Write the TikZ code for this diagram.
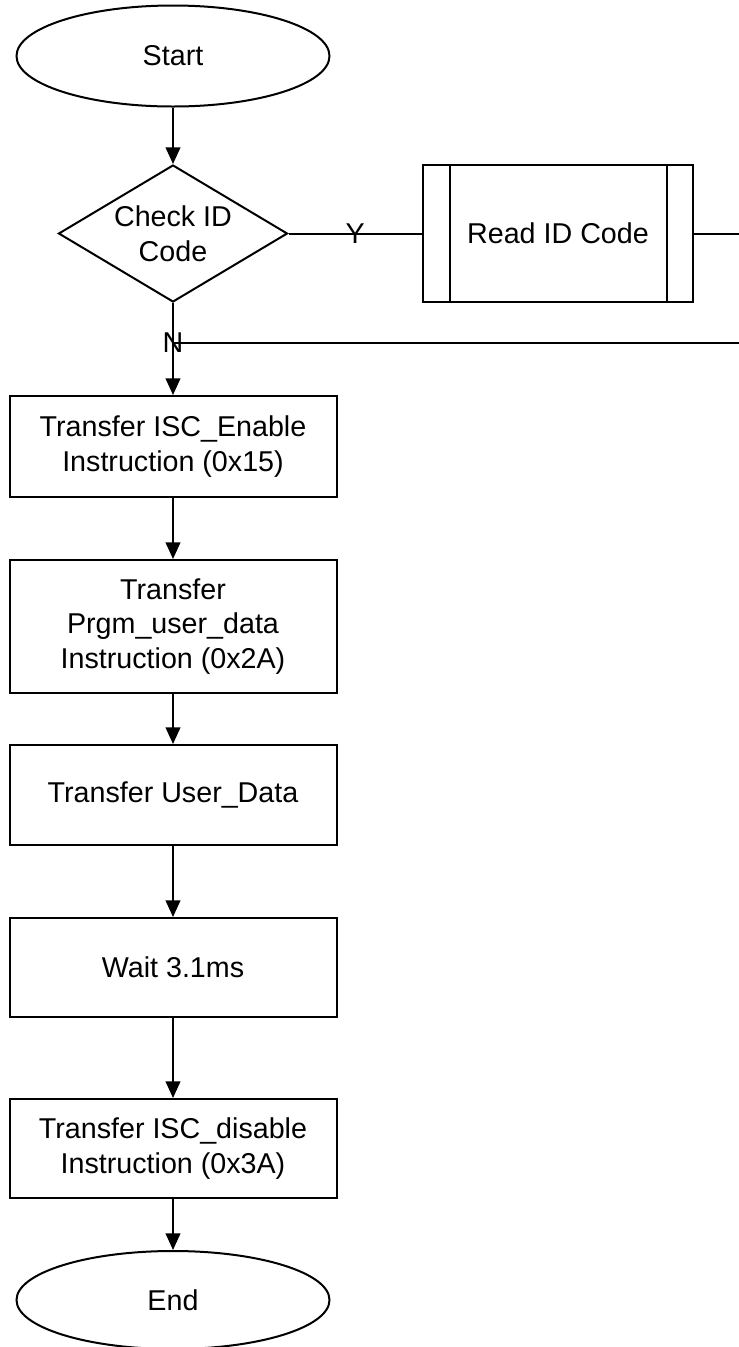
\documentclass[tikz,border=0pt]{standalone}
\usepackage{fontspec}
\setmainfont{Liberation Sans}
\usetikzlibrary{shapes.geometric,arrows.meta}

\begin{document}
\begin{tikzpicture}[x=0.75pt,y=0.75pt,yscale=-1,xscale=1,
  line width=1.5pt,
  every node/.style={font=\fontsize{21.5}{26}\selectfont},
  terminal/.style={draw,ellipse,minimum width=234.75pt,inner sep=0pt},
  procbox/.style={draw,rectangle,minimum width=245.25pt,align=center,inner sep=0pt},
  decision/.style={draw,diamond,aspect=1.67,minimum width=171.75pt,minimum height=102.75pt,inner sep=0pt,align=center},
  flow/.style={-{Triangle[length=12.5pt 0,width=11pt 0]}}
]
\useasboundingbox (0,0) rectangle (739,1347);

%Start / End
\node [terminal,minimum height=75.75pt] (start) at (173,56) {Start};
\node [terminal,minimum height=73.5pt] (finish) at (173,1300) {End};

%Decision and subroutine
\node [decision] (check) at (173,233.5) {Check ID\\Code};
\node [draw,minimum width=202.5pt,minimum height=102.75pt,inner sep=0pt] (read) at (558,233.5) {Read ID Code};
\draw ([xshift=21pt]read.north west) -- ([xshift=21pt]read.south west);
\draw ([xshift=-20.25pt]read.north east) -- ([xshift=-20.25pt]read.south east);

%Process boxes
\node [procbox,minimum height=75.75pt] (enable) at (173,446.5) {Transfer ISC\_Enable\\Instruction (0x15)};
\node [procbox,minimum height=99.75pt] (prgm) at (173,626.5) {Transfer\\Prgm\_user\_data\\Instruction (0x2A)};
\node [procbox,minimum height=75pt] (udata) at (173,795) {Transfer User\_Data};
\node [procbox,minimum height=74.25pt] (wait) at (173,967.5) {Wait 3.1ms};
\node [procbox,minimum height=74.25pt] (disable) at (173,1148.5) {Transfer ISC\_disable\\Instruction (0x3A)};

\coordinate (merge) at (173,343);
\coordinate (turn) at (741,343);

%Connectors
\draw [flow] (start) -- (check);
\draw (check.east) -- node {Y} (read.west);
\draw (read.east) -| (turn) -- (merge);
\draw [flow] (check.south) -- node [pos=0.436] {N} (enable.north);
\draw [flow] (enable) -- (prgm);
\draw [flow] (prgm) -- (udata);
\draw [flow] (udata) -- (wait);
\draw [flow] (wait) -- (disable);
\draw [flow] (disable) -- (finish);

\end{tikzpicture}
\end{document}
